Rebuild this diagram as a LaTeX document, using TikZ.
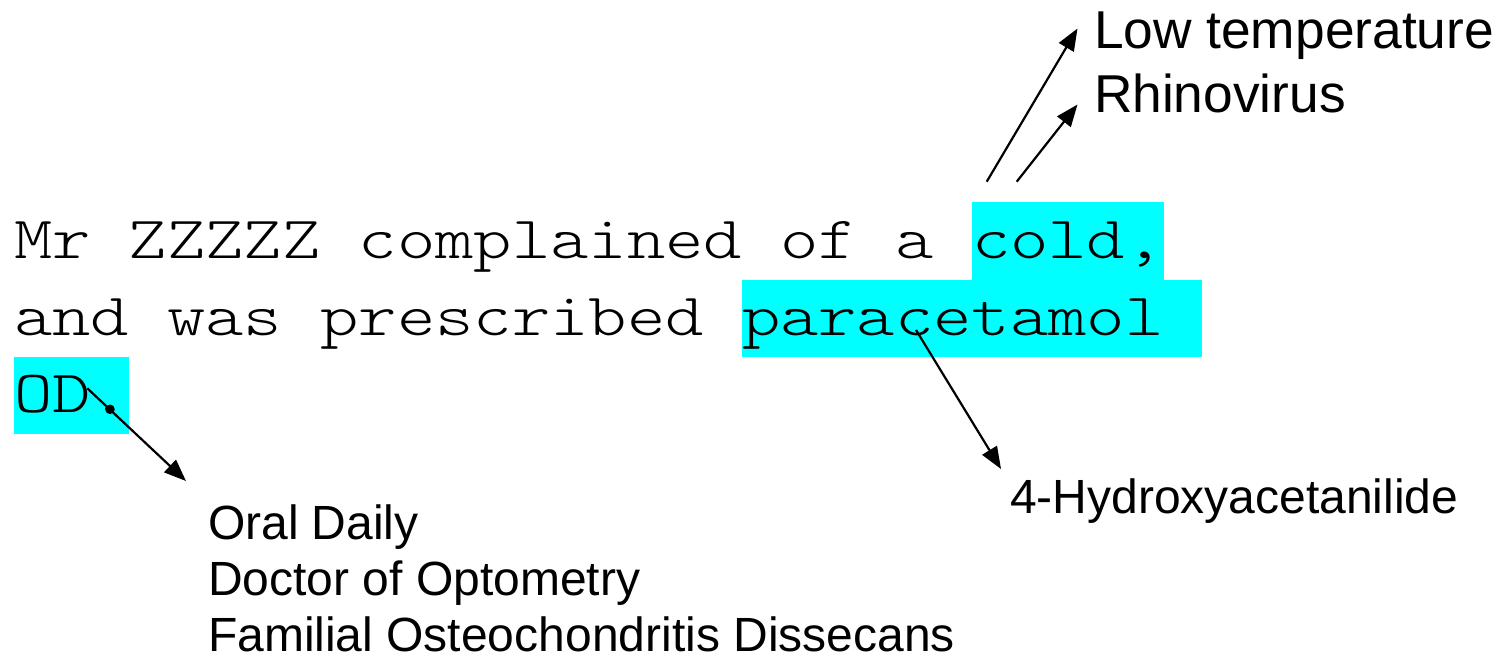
\documentclass[tikz,border=0pt]{standalone}
\usepackage{fontspec}
\setmainfont{Liberation Sans}
\newfontfamily\courfont{Latin Modern Mono Light}[FakeStretch=1.2165]
\usetikzlibrary{arrows.meta}
\definecolor{hlcyan}{RGB}{0,255,255}
\begin{document}
\begin{tikzpicture}[x=1bp,y=-1bp,
  mono/.style={inner sep=0pt,outer sep=0pt,anchor=base west,
    font=\courfont\fontsize{60bp}{72bp}\selectfont,
    text height=56bp,text depth=21.5bp},
  hl/.style={mono,fill=hlcyan},
  biglabel/.style={inner sep=0pt,outer sep=0pt,anchor=base west,
    font=\fontsize{53.3bp}{64bp}\selectfont},
  smalllabel/.style={inner sep=0pt,outer sep=0pt,anchor=base west,
    font=\fontsize{48bp}{56.5bp}\selectfont,text depth=0pt},
  arr/.style={line width=2.2bp,-{Triangle[length=22bp,width=17bp]}}
]
\useasboundingbox (0,0) rectangle (1501,655);
% highlighted words
\node[hl] (cold) at (972,258.3) {cold,};
\node[hl] (para) at (742,335.7) {paracetamol\kern38.32bp};
\node[hl] (od) at (14,412.7) {OD.};
% plain text
\node[mono] (l1) at (14,258.3) {Mr ZZZZZ complained of a};
\node[mono] (l2) at (14,335.7) {and was prescribed};
% labels
\node[biglabel] (lowt) at (1094,49) {Low temperature};
\node[biglabel] (rhino) at (1094,113) {Rhinovirus};
\node[smalllabel] (hydro) at (1010,513.3) {4-Hydroxyacetanilide};
\node[smalllabel] (oral) at (208,539) {Oral Daily};
\node[smalllabel] (doct) at (208,595.5) {Doctor of Optometry};
\node[smalllabel] (fam) at (208,651) {Familial Osteochondritis Dissecans};
% connector end points
\coordinate (coldA) at (986.7,181.7);
\coordinate (coldB) at (1016.7,181.7);
\coordinate (lowtTip) at (1077.5,28.5);
\coordinate (rhinoTip) at (1077.5,104.5);
\coordinate (paraStart) at (916,330);
\coordinate (hydroTip) at (1001,469);
\coordinate (odStart) at (87.3,388.3);
\coordinate (odDot) at (110,409.3);
\coordinate (oralTip) at (186,481);
% connectors
\draw[arr] (coldA) -- (lowtTip);
\draw[arr] (coldB) -- (rhinoTip);
\draw[arr] (paraStart) -- (hydroTip);
\draw[arr] (odStart) -- (oralTip);
\fill (odDot) circle (4.8bp);
\end{tikzpicture}
\end{document}
